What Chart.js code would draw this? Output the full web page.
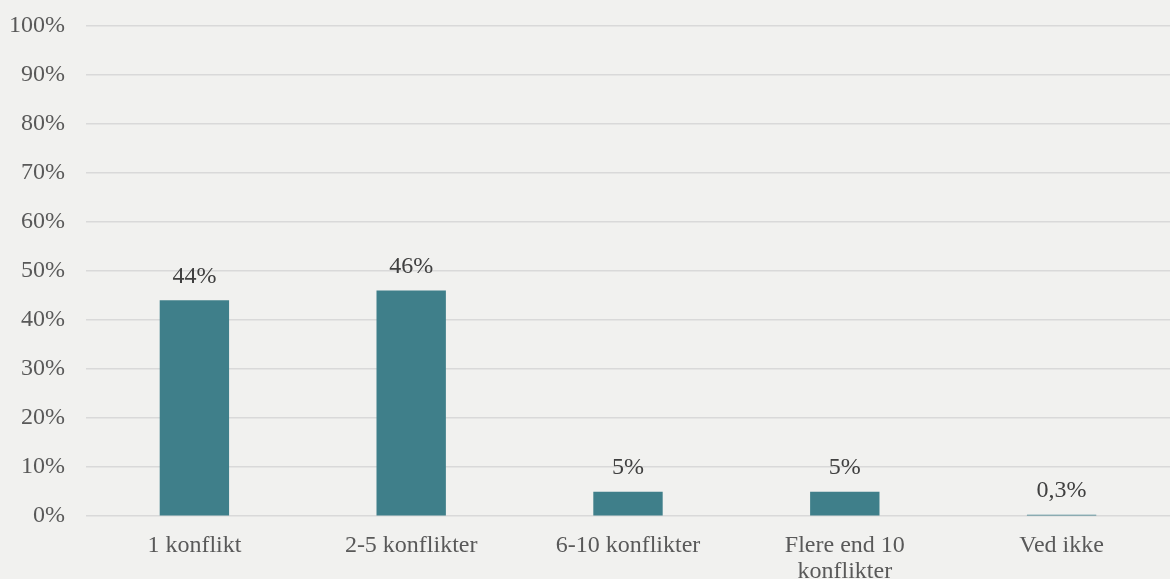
<!DOCTYPE html>
<html>
<head>
<meta charset="utf-8">
<script src="https://cdn.jsdelivr.net/npm/chart.js@4"></script>
<style>
  html, body { margin: 0; padding: 0; background: #f1f1ef; overflow: hidden; }
  #wrap { width: 1170px; height: 589px; position: relative; top: -10px; }
</style>
</head>
<body>
<div id="wrap"><canvas id="chart"></canvas></div>
<script>
// Data
const categories = ['1 konflikt', '2-5 konflikter', '6-10 konflikter', ['Flere end 10', 'konflikter'], 'Ved ikke'];
const shares = [44, 46, 5, 5, 0.3];
const yTicks = [0, 10, 20, 30, 40, 50, 60, 70, 80, 90, 100];

const FONT = "'Liberation Serif', 'Times New Roman', serif";
const BAR = '#3f7f8a';

function pct(v) {
  return String(v).replace('.', ',') + '%';
}

// Simple value labels above each bar
const valueLabels = {
  id: 'valueLabels',
  afterDatasetsDraw(chart) {
    const ctx = chart.ctx;
    const meta = chart.getDatasetMeta(0);
    ctx.save();
    ctx.font = '24px ' + FONT;
    ctx.fillStyle = '#404040';
    ctx.textAlign = 'center';
    ctx.textBaseline = 'middle';
    meta.data.forEach((bar, i) => {
      ctx.fillText(pct(shares[i]), bar.x, bar.y - 24);
    });
    ctx.restore();
  }
};

new Chart(document.getElementById('chart'), {
  type: 'bar',
  data: {
    labels: categories,
    datasets: [{
      data: shares,
      backgroundColor: BAR,
      barPercentage: 0.32,
      categoryPercentage: 1,
    }]
  },
  options: {
    responsive: true,
    maintainAspectRatio: false,
    animation: false,
    layout: { padding: { left: -12, top: -5, right: 0, bottom: -14 } },
    plugins: { legend: { display: false }, tooltip: { enabled: false } },
    scales: {
      x: {
        grid: { display: false },
        border: { display: false },
        ticks: { color: '#595959', font: { family: FONT, size: 24, lineHeight: 1.1 }, padding: 8, maxRotation: 0 },
      },
      y: {
        min: 0, max: 100,
        afterBuildTicks: (axis) => { axis.ticks = yTicks.map((v) => ({ value: v })); },
        grid: { color: '#d9d9d9', lineWidth: 1.5, drawTicks: false },
        border: { display: false },
        ticks: { color: '#595959', font: { family: FONT, size: 24 }, padding: 21, callback: (v) => v + '%' },
      }
    }
  },
  plugins: [valueLabels]
});
</script>
</body>
</html>
